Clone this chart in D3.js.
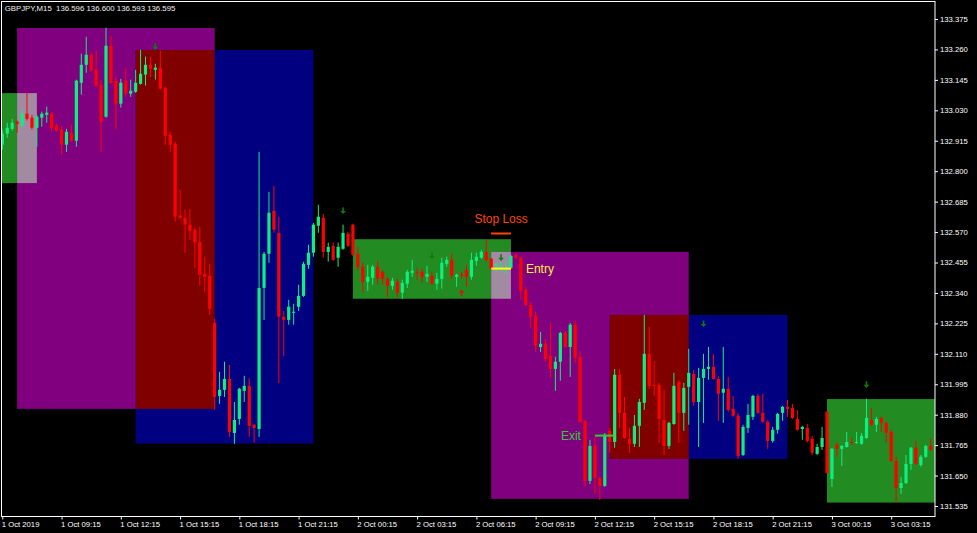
<!DOCTYPE html>
<html>
<head>
<meta charset="utf-8">
<script src="https://cdn.jsdelivr.net/npm/d3@7"></script>
<style>
  html, body { margin: 0; padding: 0; background: #000; }
  svg { display: block; }
  text { font-family: "Liberation Sans", Arial, sans-serif; }
</style>
</head>
<body>
<svg id="chart" width="977" height="533"></svg>
<script>
// GBPJPY M15 bars, starting 1 Oct 2019 06:15
var opens = [132.900,132.942,132.960,132.987,132.972,133.017,133.002,132.964,133.002,133.013,
  133.017,132.972,132.957,132.900,132.945,132.915,133.134,133.202,133.240,133.183,
  133.127,133.006,133.274,133.142,133.055,133.142,133.093,133.100,133.130,133.165,
  133.202,133.183,133.191,133.115,132.938,132.904,132.632,132.624,132.598,132.579,
  132.533,132.412,132.405,132.227,131.951,131.974,132.015,131.811,131.864,131.970,
  131.989,131.842,131.826,132.359,132.488,132.650,132.567,132.250,132.238,132.265,
  132.288,132.329,132.446,132.492,132.594,132.624,132.495,132.518,132.473,132.507,
  132.564,132.598,132.488,132.439,132.382,132.397,132.439,132.420,132.393,132.367,
  132.382,132.341,132.375,132.416,132.420,132.420,132.401,132.405,132.375,132.393,
  132.450,132.465,132.401,132.409,132.427,132.401,132.461,132.473,132.495,132.469,
  132.443,132.435,132.427,132.435,132.484,132.473,132.352,132.295,132.254,132.136,
  132.148,132.102,132.053,132.080,132.189,132.136,132.220,132.099,131.857,131.630,
  131.762,131.641,131.611,131.819,131.777,132.031,131.887,131.789,131.770,131.838,
  131.925,132.110,131.993,131.993,131.860,131.762,131.845,132.004,131.887,131.985,
  132.034,131.928,132.019,132.053,132.061,132.015,131.963,131.978,131.902,131.876,
  131.728,131.830,131.872,131.951,131.887,131.853,131.781,131.823,131.887,131.910,
  131.906,131.864,131.826,131.830,131.789,131.732,131.758,131.891,131.637,131.766,
  131.751,131.758,131.777,131.774,131.770,131.792,131.860,131.842,131.868,131.849,
  131.815,131.705,131.603,131.622,131.694,131.755,131.690,131.721,131.762];
var highs = [132.957,132.983,132.998,132.991,133.032,133.096,133.013,133.013,133.025,133.044,
  133.025,132.979,132.972,132.960,132.976,133.146,133.244,133.308,133.248,133.255,
  133.146,133.342,133.312,133.157,133.149,133.191,133.146,133.183,133.259,133.233,
  133.233,133.206,133.255,133.119,132.949,132.911,132.730,132.654,132.658,132.586,
  132.590,132.477,132.450,132.242,132.042,132.080,132.068,131.928,131.981,132.027,
  132.019,131.845,132.873,132.495,132.722,132.745,132.628,132.272,132.314,132.299,
  132.371,132.458,132.522,132.605,132.673,132.639,132.530,132.530,132.530,132.598,
  132.571,132.602,132.514,132.454,132.446,132.446,132.461,132.427,132.401,132.397,
  132.393,132.390,132.427,132.465,132.435,132.431,132.443,132.420,132.416,132.473,
  132.477,132.488,132.412,132.420,132.446,132.492,132.492,132.503,132.541,132.473,
  132.454,132.458,132.458,132.484,132.488,132.477,132.363,132.306,132.269,132.193,
  132.167,132.227,132.099,132.193,132.197,132.227,132.235,132.121,131.860,131.785,
  131.796,131.645,131.811,131.830,132.053,132.053,131.947,131.830,131.879,131.940,
  132.257,132.212,132.083,132.000,131.974,131.853,132.038,132.012,132.000,132.129,
  132.049,132.057,132.110,132.136,132.110,132.027,132.136,132.023,131.951,131.887,
  131.842,131.921,131.955,131.959,131.959,131.860,131.834,131.887,131.913,131.936,
  131.921,131.898,131.838,131.845,131.800,131.770,131.834,131.895,131.755,131.774,
  131.766,131.815,131.792,131.815,131.811,131.940,131.906,131.872,131.872,131.853,
  131.823,131.721,131.645,131.728,131.758,131.781,131.728,131.766,131.789];
var lows = [132.881,132.926,132.953,132.945,132.968,132.991,132.957,132.892,132.968,132.983,
  132.949,132.949,132.862,132.873,132.911,132.892,133.089,133.172,133.176,133.119,
  132.873,133.002,133.130,132.960,133.040,133.081,133.081,133.096,133.127,133.123,
  133.157,133.146,133.108,132.900,132.873,132.609,132.616,132.492,132.541,132.435,
  132.367,132.341,132.257,131.898,131.921,131.947,131.796,131.770,131.842,131.928,
  131.796,131.774,131.796,132.238,132.454,132.567,132.000,132.102,132.220,132.220,
  132.272,132.325,132.431,132.477,132.567,132.473,132.458,132.461,132.439,132.503,
  132.514,132.480,132.427,132.341,132.348,132.371,132.371,132.371,132.325,132.352,
  132.325,132.318,132.359,132.401,132.390,132.378,132.382,132.371,132.352,132.356,
  132.439,132.393,132.363,132.393,132.363,132.390,132.443,132.469,132.458,132.427,
  132.420,132.420,132.412,132.431,132.469,132.314,132.291,132.208,132.117,132.117,
  132.080,132.019,131.970,132.008,132.133,132.023,132.076,131.849,131.607,131.618,
  131.581,131.558,131.607,131.736,131.755,131.830,131.789,131.736,131.758,131.758,
  131.898,131.978,131.951,131.774,131.728,131.751,131.842,131.774,131.819,131.842,
  131.913,131.758,131.849,132.012,132.012,131.857,131.849,131.891,131.872,131.713,
  131.724,131.811,131.860,131.883,131.849,131.751,131.774,131.808,131.857,131.872,
  131.864,131.819,131.785,131.774,131.728,131.728,131.747,131.656,131.607,131.721,
  131.687,131.755,131.766,131.770,131.766,131.789,131.838,131.815,131.815,131.774,
  131.702,131.547,131.581,131.618,131.671,131.690,131.683,131.717,131.743];
var closes = [132.942,132.964,132.983,132.979,133.017,132.998,132.964,133.006,133.017,133.021,
  132.964,132.953,132.900,132.949,132.915,133.142,133.202,133.240,133.180,133.123,
  132.987,133.274,133.134,133.055,133.134,133.093,133.104,133.134,133.168,133.202,
  133.187,133.191,133.112,132.934,132.900,132.628,132.624,132.598,132.575,132.530,
  132.409,132.401,132.280,131.947,131.974,132.015,131.815,131.860,131.978,131.989,
  131.838,131.830,132.359,132.488,132.643,132.579,132.250,132.238,132.288,132.269,
  132.329,132.450,132.492,132.598,132.628,132.495,132.514,132.465,132.514,132.567,
  132.518,132.484,132.439,132.382,132.401,132.439,132.393,132.393,132.367,132.386,
  132.341,132.378,132.420,132.424,132.416,132.401,132.412,132.375,132.393,132.454,
  132.465,132.405,132.409,132.405,132.401,132.465,132.477,132.495,132.465,132.431,
  132.450,132.439,132.435,132.480,132.473,132.348,132.295,132.250,132.140,132.148,
  132.091,132.053,132.080,132.189,132.136,132.220,132.095,131.853,131.630,131.762,
  131.641,131.611,131.804,131.777,132.031,131.887,131.792,131.770,131.838,131.928,
  132.110,131.989,131.989,131.864,131.762,131.849,131.989,131.887,131.981,132.038,
  131.928,132.019,132.053,132.061,132.015,131.959,131.978,131.898,131.876,131.724,
  131.834,131.879,131.951,131.887,131.853,131.781,131.823,131.883,131.910,131.902,
  131.868,131.823,131.834,131.781,131.736,131.758,131.792,131.660,131.751,131.751,
  131.762,131.777,131.774,131.777,131.800,131.868,131.842,131.864,131.849,131.811,
  131.705,131.603,131.622,131.694,131.755,131.694,131.721,131.762,131.747];

// range boxes (bar index from/to, price top/bottom)
var boxFrom = [-6, 3, 27, 71, 99, 123, 167];
var boxTo = [7, 43, 63, 103, 139, 159, 200];
var boxTop = [133.095, 133.341, 133.258, 132.543, 132.495, 132.257, 131.939];
var boxBottom = [132.755, 131.902, 131.771, 132.318, 131.562, 131.713, 131.548];
var boxColors = ["#228b22", "#800080", "#000080", "#228b22", "#800080", "#000080", "#228b22"];

// signal arrows
var downArrowBars = [31, 69, 87, 101, 142, 175];
var downArrowPrices = [133.270, 132.650, 132.480, 132.473, 132.223, 131.993];
var upArrowBars = [93];
var upArrowPrices = [132.341];

// trade levels
var stopPrice = 132.565, entryPrice = 132.432, exitPrice = 131.801;
var tradeFrom = 99, tradeTo = 103, exitFrom = 120, exitTo = 124;

var priceTicks = [133.375, 133.260, 133.145, 133.030, 132.915, 132.800, 132.685, 132.570,
  132.455, 132.340, 132.225, 132.110, 131.995, 131.880, 131.765, 131.650, 131.535];
var timeTicks = [0, 12, 24, 36, 48, 60, 72, 84, 96, 108, 120, 132, 144, 156, 168, 180];
var timeLabels = ["1 Oct 2019", "1 Oct 09:15", "1 Oct 12:15", "1 Oct 15:15", "1 Oct 18:15",
  "1 Oct 21:15", "2 Oct 00:15", "2 Oct 03:15", "2 Oct 06:15", "2 Oct 09:15", "2 Oct 12:15",
  "2 Oct 15:15", "2 Oct 18:15", "2 Oct 21:15", "3 Oct 00:15", "3 Oct 03:15"];

var bullColor = "#0cf07f", bearColor = "#ff0000";

const svg = d3.select("#chart");
const plotRight = 935, plotBottom = 516.5;

const x = d3.scaleLinear().domain([0, 180]).range([2.3, 891.2]);
const y = d3.scaleLinear().domain([131.535, 133.375]).range([506, 19]);

svg.append("rect").attr("width", 977).attr("height", 533).attr("fill", "#000");

svg.append("defs").append("clipPath").attr("id", "plotclip")
  .append("rect").attr("x", 2).attr("y", 2).attr("width", plotRight - 2).attr("height", plotBottom - 2);

const plot = svg.append("g").attr("clip-path", "url(#plotclip)");

// boxes
var boxes = boxFrom.map((f, i) => ({from: f, to: boxTo[i], top: boxTop[i], bottom: boxBottom[i], color: boxColors[i]}));

plot.selectAll(".box")
  .data(boxes)
  .join("rect")
  .attr("class", "box")
  .attr("x", d => x(d.from))
  .attr("y", d => y(d.top))
  .attr("width", d => x(d.to) - x(d.from))
  .attr("height", d => y(d.bottom) - y(d.top))
  .attr("fill", d => d.color);

// overlapping parts are drawn xor-ed like the terminal does
function xorColor(a, b) {
  var ca = d3.rgb(a), cb = d3.rgb(b);
  return d3.rgb(ca.r ^ cb.r, ca.g ^ cb.g, ca.b ^ cb.b).formatHex();
}
var overlaps = [];
for (var i = 0; i < boxes.length; i++) {
  for (var j = i + 1; j < boxes.length; j++) {
    var a = boxes[i], b = boxes[j];
    var oFrom = Math.max(a.from, b.from), oTo = Math.min(a.to, b.to);
    var oTop = Math.min(a.top, b.top), oBot = Math.max(a.bottom, b.bottom);
    if (oFrom < oTo && oBot < oTop) {
      overlaps.push({from: oFrom, to: oTo, top: oTop, bottom: oBot, color: xorColor(a.color, b.color)});
    }
  }
}
plot.selectAll(".overlap")
  .data(overlaps)
  .join("rect")
  .attr("class", "overlap")
  .attr("x", d => x(d.from))
  .attr("y", d => y(d.top))
  .attr("width", d => x(d.to) - x(d.from))
  .attr("height", d => y(d.bottom) - y(d.top))
  .attr("fill", d => d.color);

// candles
var bars = opens.map((o, i) => ({i: i, o: o, h: highs[i], l: lows[i], c: closes[i]}));
var candle = plot.selectAll(".candle")
  .data(bars)
  .join("g")
  .attr("class", "candle");

candle.append("line")
  .attr("x1", d => x(d.i))
  .attr("x2", d => x(d.i))
  .attr("y1", d => y(d.h))
  .attr("y2", d => y(d.l))
  .attr("stroke", d => d.c >= d.o ? bullColor : bearColor)
  .attr("stroke-width", 1);

candle.append("rect")
  .attr("x", d => x(d.i) - 1.6)
  .attr("width", 3.2)
  .attr("y", d => y(Math.max(d.o, d.c)))
  .attr("height", d => Math.max(1, Math.abs(y(d.o) - y(d.c))))
  .attr("fill", d => d.c >= d.o ? bullColor : bearColor);

// arrows
plot.selectAll(".down")
  .data(downArrowBars)
  .join("path")
  .attr("class", "down")
  .attr("transform", (d, i) => "translate(" + x(d) + "," + y(downArrowPrices[i]) + ")")
  .attr("d", "M-0.8,-3.5H0.8V0H2.8L0,3.2L-2.8,0H-0.8Z")
  .attr("fill", "#0a7d0a");

plot.selectAll(".up")
  .data(upArrowBars)
  .join("path")
  .attr("class", "up")
  .attr("transform", (d, i) => "translate(" + x(d) + "," + y(upArrowPrices[i]) + ")")
  .attr("d", "M-0.8,3.5H0.8V0H2.8L0,-3.2L-2.8,0H-0.8Z")
  .attr("fill", "#e01010");

// trade lines and labels
var levels = [
  {from: tradeFrom, to: tradeTo, price: stopPrice, color: "#ff4500"},
  {from: tradeFrom, to: tradeTo, price: entryPrice, color: "#ffff00"},
  {from: exitFrom, to: exitTo, price: exitPrice, color: "#32cd32"}
];
plot.selectAll(".level")
  .data(levels)
  .join("line")
  .attr("class", "level")
  .attr("x1", d => x(d.from))
  .attr("x2", d => x(d.to))
  .attr("y1", d => y(d.price))
  .attr("y2", d => y(d.price))
  .attr("stroke", d => d.color)
  .attr("stroke-width", 2);

plot.append("text")
  .attr("x", (x(tradeFrom) + x(tradeTo)) / 2)
  .attr("y", y(stopPrice) - 10.5)
  .attr("text-anchor", "middle")
  .attr("font-size", 12)
  .attr("fill", "#ff4500")
  .text("Stop Loss");

plot.append("text")
  .attr("x", x(tradeTo) + 15)
  .attr("y", y(entryPrice) + 4.5)
  .attr("font-size", 12)
  .attr("fill", "#f5f03c")
  .text("Entry");

plot.append("text")
  .attr("x", x(exitFrom) - 14)
  .attr("y", y(exitPrice) + 4.5)
  .attr("text-anchor", "end")
  .attr("font-size", 12)
  .attr("fill", "#32cd32")
  .text("Exit");

// header
svg.append("text")
  .attr("x", 4.7)
  .attr("y", 10.6)
  .attr("font-size", 7.8)
  .attr("fill", "#f0f0f0")
  .attr("xml:space", "preserve")
  .text("GBPJPY,M15  136.596 136.600 136.593 136.595");

// frame
svg.append("rect")
  .attr("x", 1.5).attr("y", 1.5)
  .attr("width", plotRight - 1.5).attr("height", plotBottom - 1.5)
  .attr("fill", "none").attr("stroke", "#fff").attr("stroke-width", 1);

// axes
const yAxis = svg.append("g")
  .attr("transform", "translate(" + plotRight + ",0)")
  .call(d3.axisRight(y).tickValues(priceTicks).tickSize(3).tickSizeOuter(0).tickPadding(2)
    .tickFormat(d3.format(".3f")));
yAxis.select(".domain").remove();
yAxis.selectAll("line").attr("stroke", "#fff");
yAxis.selectAll("text").attr("fill", "#fff").attr("font-size", 7.7)
  .attr("font-family", "\"Liberation Sans\", Arial, sans-serif");

const xAxis = svg.append("g")
  .attr("transform", "translate(0," + plotBottom + ")")
  .call(d3.axisBottom(x).tickValues(timeTicks).tickSize(3).tickSizeOuter(0).tickPadding(2.5)
    .tickFormat((d, i) => timeLabels[i]));
xAxis.select(".domain").remove();
xAxis.selectAll("line").attr("stroke", "#fff");
xAxis.selectAll("text").attr("fill", "#fff").attr("font-size", 7.7)
  .attr("text-anchor", "start").attr("dx", -1)
  .attr("font-family", "\"Liberation Sans\", Arial, sans-serif");
</script>
</body>
</html>
